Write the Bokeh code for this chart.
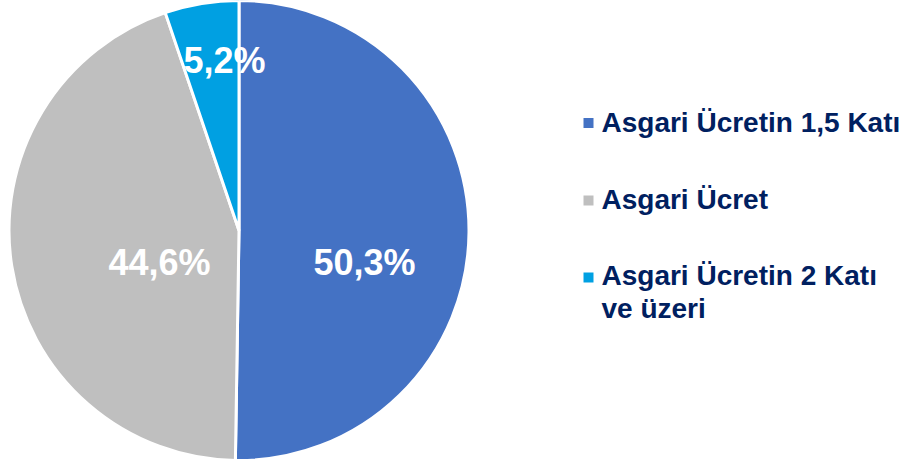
import numpy as np
from bokeh.plotting import figure
from bokeh.models import Range1d
from bokeh.core.properties import value
from bokeh.embed import file_html
from bokeh.resources import INLINE

# ---- data ----
categories = ["Asgari Ücretin 1,5 Katı", "Asgari Ücret", "Asgari Ücretin 2 Katı\nve üzeri"]
shares = [50.3, 44.6, 5.2]
pct_labels = ["50,3%", "44,6%", "5,2%"]
colors = ["#4472C4", "#BFBFBF", "#00A0E2"]

# ---- layout ----
W, H = 900, 464
FONT = value("Liberation Sans")
NAVY = "#002060"

p = figure(width=W, height=H, x_range=Range1d(0, W), y_range=Range1d(0, H),
           output_backend="svg", toolbar_location=None, min_border=0)
p.axis.visible = False
p.grid.visible = False
p.outline_line_color = None
p.background_fill_color = "white"
p.border_fill_color = "white"

def Y(ypage):
    return H - ypage

cx, cy, r = 238.5, Y(230), 230
frac = np.array(shares) / sum(shares)
ends = np.pi / 2 - 2 * np.pi * np.cumsum(frac)
starts = np.concatenate([[np.pi / 2], ends[:-1]])
p.wedge(x=cx, y=cy, radius=r, start_angle=starts, end_angle=ends,
        direction="clock", fill_color=colors, line_color="white", line_width=3)

# percentage labels (offsets of label centre / baseline from pie centre, in px)
label_offsets = [(125.5, 32), (-79.5, 32), (-14.5, -170)]
lx = [cx + dx for dx, dy in label_offsets]
ly = [Y(230 + dy) for dx, dy in label_offsets]
p.text(x=lx, y=ly, text=pct_labels, text_color="white", text_font=FONT,
       text_font_size="36px", text_font_style="bold", text_align="center",
       text_baseline="alphabetic")

# legend
leg_x, text_x = 588, 601
first_baselines = [122, 199, 275]
line_h = 33
marker_centres = [122.5, 200, 277]
p.scatter(x=[leg_x] * len(categories), y=[Y(v) for v in marker_centres],
          marker="square", size=10, fill_color=colors, line_color=None)
tx, ty, tt = [], [], []
for cat, b in zip(categories, first_baselines):
    for i, line in enumerate(cat.split("\n")):
        tx.append(text_x)
        ty.append(Y(b + i * line_h))
        tt.append(line)
p.text(x=tx, y=ty, text=tt, text_color=NAVY, text_font=FONT,
       text_font_size="28px", text_font_style="bold", text_align="left",
       text_baseline="alphabetic")

html = file_html(p, INLINE)
html = html.replace("</head>", "<style>html,body{margin:0;padding:0;overflow:hidden;}</style></head>", 1)
open("out.html", "w").write(html)
